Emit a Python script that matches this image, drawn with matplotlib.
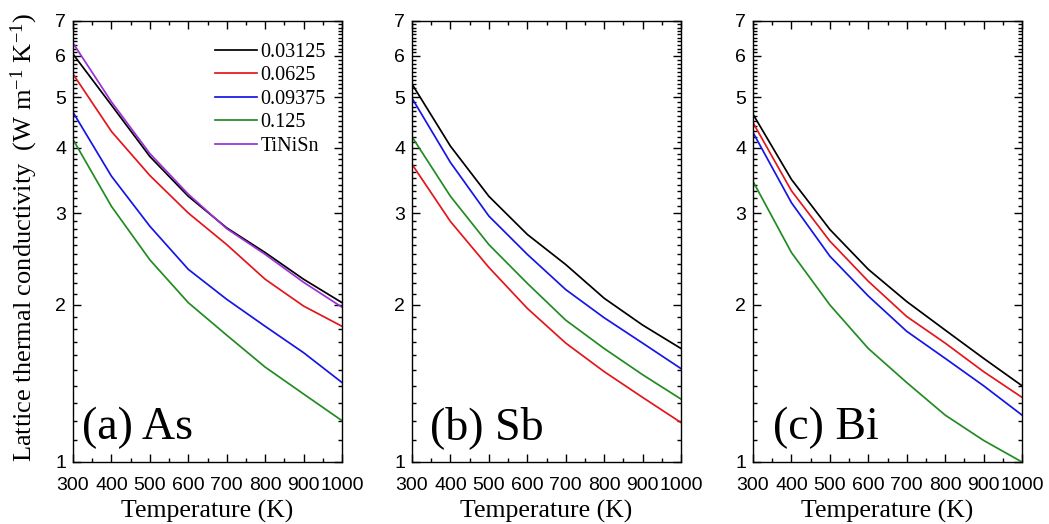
import numpy as np
import matplotlib
matplotlib.use("Agg")
import matplotlib.pyplot as plt
from matplotlib.ticker import FixedLocator, NullFormatter, MultipleLocator

plt.rcParams["font.family"] = ["Liberation Serif", "DejaVu Serif"]
plt.rcParams["mathtext.fontset"] = "custom"
plt.rcParams["mathtext.rm"] = "Liberation Serif"
plt.rcParams["mathtext.it"] = "Liberation Serif:italic"

# data (lattice thermal conductivity, W/mK)
temperature = [300, 400, 500, 600, 700, 800, 900, 1000]
labels = ["0.03125", "0.0625", "0.09375", "0.125", "TiNiSn"]
colors = ["#000000", "#e3161b", "#1515e6", "#228b22", "#9b30d8"]

as_03125 = [6.05, 4.83, 3.85, 3.23, 2.81, 2.52, 2.24, 2.02]
as_0625 = [5.54, 4.30, 3.54, 3.00, 2.61, 2.24, 1.99, 1.82]
as_09375 = [4.68, 3.53, 2.83, 2.34, 2.05, 1.82, 1.62, 1.42]
as_125 = [4.15, 3.09, 2.44, 2.02, 1.75, 1.52, 1.35, 1.20]
tinisn = [6.35, 4.90, 3.90, 3.26, 2.80, 2.50, 2.21, 1.98]

sb_03125 = [5.30, 4.03, 3.23, 2.73, 2.39, 2.06, 1.83, 1.65]
sb_0625 = [3.72, 2.89, 2.36, 1.97, 1.69, 1.49, 1.33, 1.19]
sb_09375 = [4.98, 3.75, 2.96, 2.50, 2.14, 1.89, 1.69, 1.51]
sb_125 = [4.20, 3.23, 2.61, 2.20, 1.87, 1.65, 1.47, 1.32]

bi_03125 = [4.64, 3.48, 2.79, 2.34, 2.03, 1.79, 1.58, 1.40]
bi_0625 = [4.47, 3.31, 2.65, 2.22, 1.90, 1.69, 1.49, 1.33]
bi_09375 = [4.28, 3.14, 2.48, 2.08, 1.78, 1.58, 1.40, 1.23]
bi_125 = [3.45, 2.52, 2.00, 1.65, 1.42, 1.23, 1.10, 1.00]

panels = [
    ("(a) As", [as_03125, as_0625, as_09375, as_125, tinisn], 0.033),
    ("(b) Sb", [sb_03125, sb_0625, sb_09375, sb_125], 0.067),
    ("(c) Bi", [bi_03125, bi_0625, bi_09375, bi_125], 0.074),
]

W, H = 1049, 524
fig = plt.figure(figsize=(W / 100, H / 100), dpi=100)
lefts = [73, 412, 753]

for i, (title, series, tx) in enumerate(panels):
    ax = fig.add_axes([lefts[i] / W, 1 - 462 / H, 269 / W, 441 / H])
    for j, ys in enumerate(series):
        ax.plot(temperature, ys, color=colors[j], lw=1.25, label=labels[j])

    ax.set_yscale("log")
    ax.set_xlim(300, 1000)
    ax.set_ylim(1, 7)
    ax.yaxis.set_major_locator(FixedLocator([1, 2, 3, 4, 5, 6, 7]))
    ax.yaxis.set_minor_locator(FixedLocator(np.arange(1.1, 7.0, 0.1)))
    ax.yaxis.set_minor_formatter(NullFormatter())
    ax.set_yticklabels(["1", "2", "3", "4", "5", "6", "7"])
    ax.xaxis.set_major_locator(MultipleLocator(100))
    ax.xaxis.set_minor_locator(MultipleLocator(50))
    ax.tick_params(which="both", direction="in", top=True, right=True, width=1.0,
                   labelsize=14, labelfontfamily="Liberation Sans")
    ax.tick_params(which="major", length=6)
    ax.tick_params(which="minor", length=3)
    ax.tick_params(axis="x", which="major", pad=10.5)
    ax.tick_params(axis="y", which="major", pad=5)
    for sp in ax.spines.values():
        sp.set_linewidth(1.0)

    ax.set_xlabel("Temperature (K)", fontsize=18.5)
    ax.xaxis.set_label_coords(0.5, -0.086)
    ax.text(tx, 0.052, title, transform=ax.transAxes, fontsize=33,
            ha="left", va="baseline")

    if i == 0:
        ax.legend(loc="upper right", bbox_to_anchor=(0.985, 0.978), frameon=False,
                  fontsize=14.5, handlelength=2.1, handletextpad=0.15,
                  labelspacing=0.22, borderaxespad=0.2)

fig.text(24 / W, 1 - 238 / H,
         "Lattice thermal conductivity  (W m$^{-1}$ K$^{-1}$)",
         rotation=90, ha="center", va="center", fontsize=19)

fig.savefig("out.png", dpi=100)
